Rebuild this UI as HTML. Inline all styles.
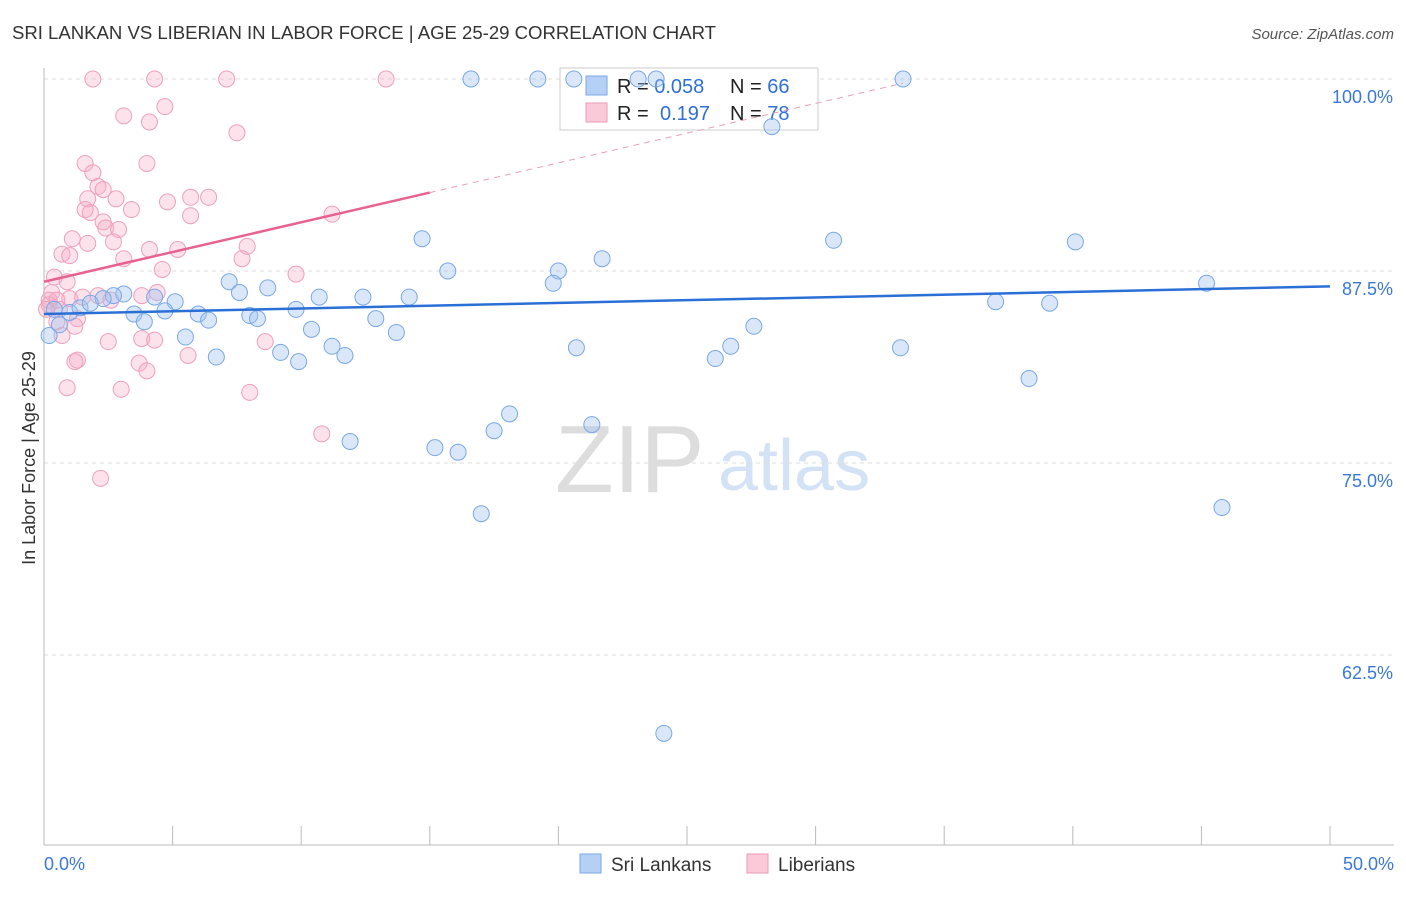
<!DOCTYPE html>
<html><head><meta charset="utf-8"><style>
body{margin:0;background:#fff;font-family:"Liberation Sans",sans-serif;}
svg text{font-family:"Liberation Sans",sans-serif;}
</style></head><body>
<svg id="c" width="1406" height="892" xmlns="http://www.w3.org/2000/svg">
<text x="12" y="39" font-size="18.6" fill="#333" textLength="704">SRI LANKAN VS LIBERIAN IN LABOR FORCE | AGE 25-29 CORRELATION CHART</text>
<text x="1394" y="39" font-size="15" fill="#555" text-anchor="end" font-style="italic">Source: ZipAtlas.com</text>
<text x="35" y="458" font-size="18" fill="#333" text-anchor="middle" transform="rotate(-90 35 458)">In Labor Force | Age 25-29</text>
<text x="555" y="492" font-size="96" fill="#ddd" font-family="Liberation Serif">ZIP</text>
<text x="718" y="490" font-size="72" fill="#d3e2f5">atlas</text>
<g id="grid"></g>
<g>
<rect x="560" y="68" width="258" height="62" fill="#fff" stroke="#ccc"/>
<rect x="586" y="76" width="21" height="19" fill="#b4d0f4" stroke="#7aa8e6"/>
<rect x="586" y="103" width="21" height="19" fill="#fbcad9" stroke="#ee9ab8"/>
<text x="617" y="93" font-size="20" fill="#222">R = <tspan fill="#2f6fd6">0.058</tspan><tspan x="730">N = </tspan><tspan fill="#2f6fd6">66</tspan></text>
<text x="617" y="120" font-size="20" fill="#222">R = <tspan x="660" fill="#2f6fd6">0.197</tspan><tspan x="730">N = </tspan><tspan fill="#2f6fd6">78</tspan></text>
</g>
<g id="pts"></g><g id="lines"></g>
<g>
<rect x="580" y="854" width="21" height="19" fill="#b4d0f4" stroke="#7aa8e6"/>
<text x="611" y="871" font-size="19" fill="#333">Sri Lankans</text>
<rect x="747" y="854" width="21" height="19" fill="#fbcad9" stroke="#ee9ab8"/>
<text x="778" y="871" font-size="19" fill="#333">Liberians</text>
</g>
</svg>
<script>
const yTicks=[100,87.5,75,62.5];
const yTickLabels=["100.0%","87.5%","75.0%","62.5%"];
const xTickLabels=["0.0%","50.0%"];
const blueX=[16.6,19.2,20.6,23.1,23.8,33.4,28.3,14.7,30.7,40.1,15.7,20.0,21.7,19.8,45.2,7.2,7.6,8.7,3.1,2.7,2.3,4.3,5.1,10.7,12.4,14.2,9.8,6.0,6.4,8.0,8.3,3.5,3.9,4.7,5.5,10.4,11.2,11.7,12.9,13.7,6.7,9.2,9.9,20.7,26.1,26.7,27.6,33.3,37.0,39.1,38.3,18.1,17.5,15.2,16.1,11.9,21.3,17.0,45.8,24.1,0.2,0.6,1.0,1.4,1.8,0.4];
const blueY=[100,100,100,100,100,100,96.9,89.6,89.5,89.4,87.5,87.5,88.3,86.7,86.7,86.8,86.1,86.4,86.0,85.9,85.7,85.8,85.5,85.8,85.8,85.8,85.0,84.7,84.3,84.6,84.4,84.7,84.2,84.9,83.2,83.7,82.6,82.0,84.4,83.5,81.9,82.2,81.6,82.5,81.8,82.6,83.9,82.5,85.5,85.4,80.5,78.2,77.1,76.0,75.7,76.4,77.5,71.7,72.1,57.4,83.3,84.0,84.8,85.1,85.4,85.0];
const pinkX=[1.9,4.3,7.1,13.3,4.7,3.1,4.1,7.5,1.6,4.0,1.9,2.1,2.3,1.7,2.8,1.6,1.8,3.4,4.8,5.7,6.4,5.7,2.3,2.4,2.9,1.1,1.7,2.7,4.1,5.2,7.9,0.7,1.0,3.1,7.7,4.6,9.8,11.2,0.4,0.9,0.3,2.1,3.8,4.4,1.0,1.5,2.6,0.2,0.6,1.3,0.5,1.2,0.7,2.5,3.8,4.3,8.6,1.3,1.2,3.7,4.0,5.6,0.9,3.0,8.0,10.8,2.2,0.2,0.1,0.5];
const pinkY=[100,100,100,100,98.2,97.6,97.2,96.5,94.5,94.5,93.9,93.0,92.8,92.2,92.2,91.5,91.3,91.5,92.0,92.3,92.3,91.1,90.7,90.3,90.2,89.6,89.3,89.4,88.9,88.9,89.1,88.6,88.5,88.3,88.3,87.6,87.3,91.2,87.1,86.8,86.1,85.9,85.9,86.1,85.7,85.8,85.6,85.3,85.0,84.4,84.2,83.9,83.3,82.9,83.1,83.0,82.9,81.7,81.6,81.5,81.0,82.0,79.9,79.8,79.6,76.9,74.0,85.6,85.0,85.6];
const blueTrend=[84.7,86.5];
const pinkTrend=[86.8,0.387];
const NS="http://www.w3.org/2000/svg";
const sx=v=>44+v*25.72, sy=v=>79+(100-v)*15.36;
function mk(t,a,p){const e=document.createElementNS(NS,t);for(const k in a)e.setAttribute(k,a[k]);p.appendChild(e);return e;}
const g=document.getElementById('grid');
yTicks.forEach((t,i)=>{
 const l=mk('line',{x1:44,x2:1394,y1:sy(t),y2:sy(t),stroke:'#ddd','stroke-dasharray':'4,4'},g);
 
 
 const tx=mk('text',{x:1393,y:sy(t)+24,'font-size':18,fill:'#3a78d8','text-anchor':'end'},g);
 tx.textContent=yTickLabels[i];
 
 
});
mk('line',{x1:44,x2:44,y1:68,y2:845,stroke:'#bbb'},g);
mk('line',{x1:44,x2:1394,y1:845,y2:845,stroke:'#bbb'},g);
for(let i=0;i<=10;i++){const t=mk('line',{x1:sx(i*5),x2:sx(i*5),y1:826,y2:845,stroke:'#bbb'},g);
 
 }
[[0,'start',44],[50,'end',1394]].forEach((d,i)=>{const t=mk('text',{x:d[2],y:870,'font-size':18,fill:'#3a78d8','text-anchor':d[1]},g);t.textContent=xTickLabels[i];
 
 });
const p=document.getElementById('pts');
pinkX.forEach((x,i)=>{const c=mk('circle',{cx:sx(x),cy:sy(pinkY[i]),r:8,fill:'rgba(246,172,198,0.35)',stroke:'#eea0bc','stroke-width':1},p);
 
 });
blueX.forEach((x,i)=>{const c=mk('circle',{cx:sx(x),cy:sy(blueY[i]),r:8,fill:'rgba(160,196,240,0.4)',stroke:'#7aa8e6','stroke-width':1},p);
 
 });
const L=document.getElementById('lines');
const bl=mk('line',{x1:sx(0),y1:sy(blueTrend[0]),x2:sx(50),y2:sy(blueTrend[1]),stroke:'#2a6fd6','stroke-width':2.5},L);


const pl=mk('line',{x1:sx(0),y1:sy(pinkTrend[0]),x2:sx(15),y2:sy(pinkTrend[0]+pinkTrend[1]*15),stroke:'#e8628e','stroke-width':2.5},L);


const pd=mk('line',{x1:sx(15),y1:sy(pinkTrend[0]+pinkTrend[1]*15),x2:sx(33.4),y2:sy(pinkTrend[0]+pinkTrend[1]*33.4),stroke:'#e8a0b8','stroke-width':1,'stroke-dasharray':'6,5'},L);


</script>
</body></html>
